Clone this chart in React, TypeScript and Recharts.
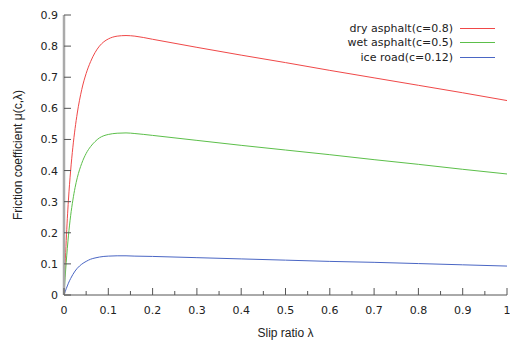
import { LineChart, Line, XAxis, YAxis, Legend } from "recharts";

// slip ratio samples (x) and friction coefficients
const lambda = [
  0, 0.0025, 0.005, 0.0075, 0.01, 0.015, 0.02, 0.025, 0.03, 0.04, 0.05, 0.06, 0.07,
  0.08, 0.09, 0.1, 0.12, 0.14, 0.16, 0.2, 0.3, 0.4, 0.5, 0.6, 0.7, 0.8, 0.9, 1.0,
];
const dryAsphalt = [
  0, 0.095, 0.175, 0.245, 0.305, 0.4, 0.475, 0.535, 0.585, 0.66, 0.712, 0.75, 0.779,
  0.8, 0.814, 0.823, 0.832, 0.834, 0.832, 0.822, 0.796, 0.771, 0.747, 0.722, 0.698, 0.674, 0.65, 0.625,
];
const wetAsphalt = [
  0, 0.055, 0.105, 0.15, 0.19, 0.255, 0.305, 0.345, 0.377, 0.423, 0.455, 0.477, 0.493,
  0.505, 0.512, 0.516, 0.52, 0.521, 0.519, 0.513, 0.497, 0.481, 0.466, 0.451, 0.435, 0.42, 0.404, 0.389,
];
const iceRoad = [
  0, 0.01, 0.02, 0.029, 0.038, 0.053, 0.066, 0.077, 0.086, 0.099, 0.108, 0.115, 0.119,
  0.122, 0.124, 0.125, 0.126, 0.126, 0.125, 0.124, 0.12, 0.116, 0.112, 0.108, 0.105, 0.101, 0.097, 0.093,
];

const seriesNames = ["dry asphalt(c=0.8)", "wet asphalt(c=0.5)", "ice road(c=0.12)"];
const seriesColors = ["#f04848", "#5cbf4a", "#4a66c4"];

const xTicks = [
  0, 0.05, 0.1, 0.15, 0.2, 0.25, 0.3, 0.35, 0.4, 0.45, 0.5, 0.55, 0.6, 0.65, 0.7, 0.75,
  0.8, 0.85, 0.9, 0.95, 1,
];
const yTicks = [0, 0.1, 0.2, 0.3, 0.4, 0.5, 0.6, 0.7, 0.8, 0.9];

const data = lambda.map((l, i) => ({
  lam: l,
  dry: dryAsphalt[i],
  wet: wetAsphalt[i],
  ice: iceRoad[i],
}));

const tickFont = "'DejaVu Sans', Verdana, sans-serif";
const tickColor = "#555";

const isMajor = (v: number) => Math.round(v * 100) % 10 === 0;
const fmt = (v: number) => String(Math.round(v * 10) / 10);

function BottomTick({ x, y, payload }: any) {
  const v = payload.value;
  const major = isMajor(v);
  return (
    <g>
      <line x1={x} x2={x} y1={y} y2={y - (major ? 7 : 4)} stroke={tickColor} />
      {major && (
        <text x={x} y={y + 19} textAnchor="middle" fontSize={11} fontFamily={tickFont} fill="#222">
          {fmt(v)}
        </text>
      )}
    </g>
  );
}

function TopTick({ x, y, payload }: any) {
  const major = isMajor(payload.value);
  return <line x1={x} x2={x} y1={y} y2={y + (major ? 7 : 4)} stroke={tickColor} />;
}

function LeftTick({ x, y, payload }: any) {
  return (
    <g>
      <line x1={x} x2={x + 7} y1={y} y2={y} stroke={tickColor} />
      <text x={x - 6} y={y + 4} textAnchor="end" fontSize={11} fontFamily={tickFont} fill="#222">
        {fmt(payload.value)}
      </text>
    </g>
  );
}

function RightTick({ x, y }: any) {
  return <line x1={x} x2={x - 7} y1={y} y2={y} stroke={tickColor} />;
}

function LegendBox() {
  return (
    <div style={{ fontFamily: tickFont, fontSize: 11, color: "#222" }}>
      {seriesNames.map((name, i) => (
        <div
          key={name}
          style={{ display: "flex", alignItems: "center", justifyContent: "flex-end", height: 14.5 }}
        >
          <span style={{ marginRight: 7, whiteSpace: "nowrap" }}>{name}</span>
          <span style={{ display: "inline-block", width: 35, borderTop: `1px solid ${seriesColors[i]}` }} />
        </div>
      ))}
    </div>
  );
}

export default function App() {
  return (
    <div>
      <style>{`body{margin:0;background:#fff}`}</style>
      <LineChart width={510} height={343} data={data} margin={{ top: 15, right: 3, bottom: 0, left: 0 }}>
        <XAxis
          xAxisId="b"
          dataKey="lam"
          type="number"
          domain={[0, 1]}
          ticks={xTicks}
          interval={0}
          height={48}
          tickSize={0}
          tickMargin={0}
          tick={<BottomTick />}
          axisLine={{ stroke: "#555" }}
          label={{
            value: "Slip ratio λ",
            position: "insideBottom",
            offset: 6,
            style: { fontFamily: "'Liberation Sans', Arial, sans-serif", fontSize: 12, fill: "#222" },
          }}
        />
        <XAxis
          xAxisId="t"
          dataKey="lam"
          type="number"
          orientation="top"
          domain={[0, 1]}
          ticks={xTicks}
          interval={0}
          height={0}
          tickSize={0}
          tickMargin={0}
          tick={<TopTick />}
          axisLine={{ stroke: "#555" }}
        />
        <YAxis
          yAxisId="l"
          type="number"
          domain={[0, 0.9]}
          ticks={yTicks}
          interval={0}
          width={64}
          tickSize={0}
          tickMargin={0}
          tick={<LeftTick />}
          axisLine={{ stroke: "#aaa", strokeWidth: 2.5 }}
          label={{
            value: "Friction coefficient μ(c,λ)",
            angle: -90,
            position: "insideLeft",
            offset: 18,
            style: {
              textAnchor: "middle",
              fontFamily: "'Liberation Sans', Arial, sans-serif",
              fontSize: 12,
              fill: "#222",
            },
          }}
        />
        <YAxis
          yAxisId="r"
          type="number"
          orientation="right"
          domain={[0, 0.9]}
          ticks={yTicks}
          interval={0}
          width={0}
          tickSize={0}
          tickMargin={0}
          tick={<RightTick />}
          axisLine={{ stroke: "#555" }}
        />
        <Legend
          layout="horizontal"
          verticalAlign="middle"
          align="center"
          content={<LegendBox />}
          wrapperStyle={{ top: 21, right: 15, left: "auto", width: "auto", height: "auto" }}
        />
        <Line xAxisId="b" yAxisId="l" type="monotone" dataKey="dry" name={seriesNames[0]} stroke={seriesColors[0]} strokeWidth={1} dot={false} isAnimationActive={false} />
        <Line xAxisId="b" yAxisId="l" type="monotone" dataKey="wet" name={seriesNames[1]} stroke={seriesColors[1]} strokeWidth={1} dot={false} isAnimationActive={false} />
        <Line xAxisId="b" yAxisId="l" type="monotone" dataKey="ice" name={seriesNames[2]} stroke={seriesColors[2]} strokeWidth={1} dot={false} isAnimationActive={false} />
      </LineChart>
    </div>
  );
}
